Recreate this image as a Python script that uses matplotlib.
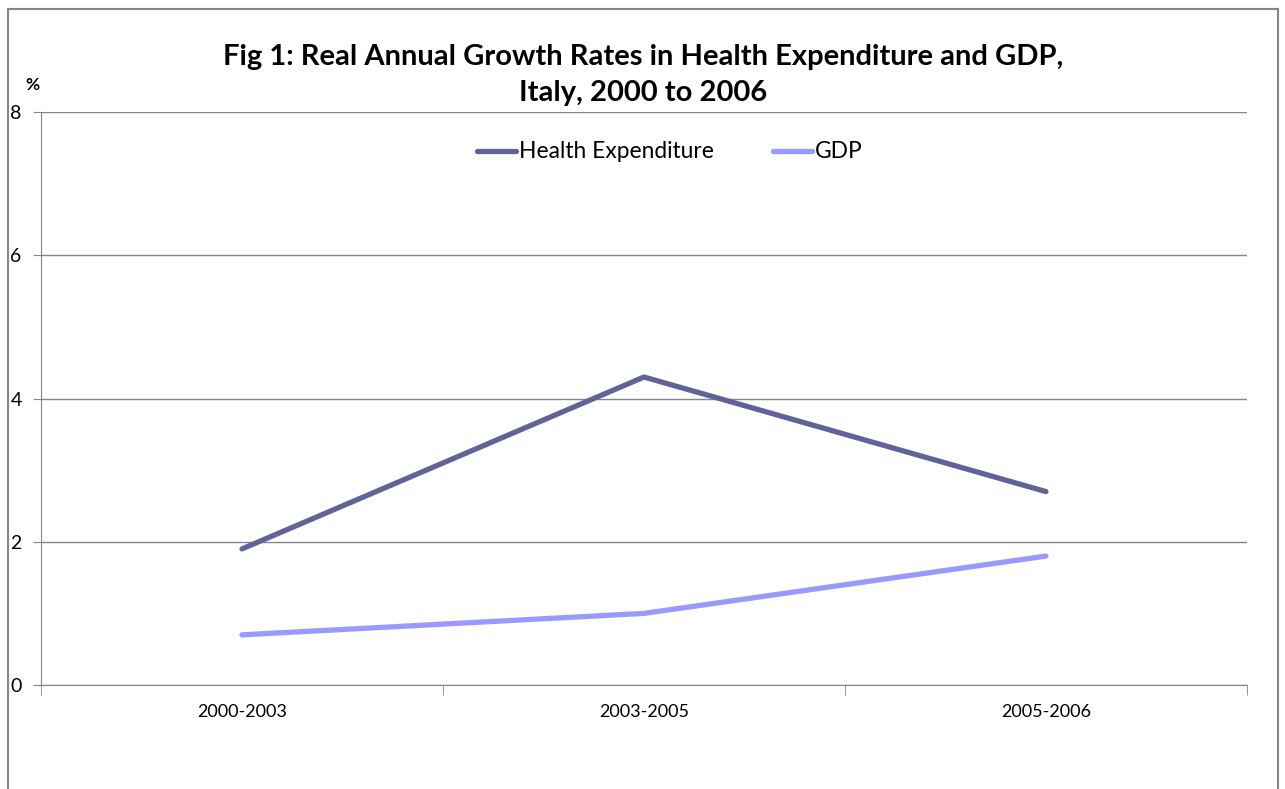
import matplotlib
matplotlib.use("Agg")
import matplotlib.pyplot as plt
from matplotlib.lines import Line2D

plt.rcParams['font.family'] = ['Lato', 'DejaVu Sans']

periods = ["2000-2003", "2003-2005", "2005-2006"]
health_expenditure = [1.9, 4.3, 2.7]
gdp = [0.7, 1.0, 1.8]
y_ticks = [0, 2, 4, 6, 8]

W, H = 1285, 789
fig = plt.figure(figsize=(W / 100, H / 100), dpi=100)
ax = fig.add_axes([41 / W, 1 - 685 / H, (1247 - 41) / W, (685 - 112) / H])

x = list(range(len(periods)))
ax.plot(x, health_expenditure, color="#62629A", lw=3.8, solid_capstyle="round",
        label="Health Expenditure", zorder=3)
ax.plot(x, gdp, color="#9999FF", lw=3.8, solid_capstyle="round",
        label="GDP", zorder=3)

ax.set_xlim(-0.5, len(periods) - 0.5)
ax.set_ylim(0, 8)
ax.set_yticks(y_ticks)
ax.set_yticklabels([str(v) for v in y_ticks], fontsize=14)
ax.set_xticks(x)
ax.set_xticklabels(periods, fontsize=13)
ax.tick_params(axis="x", length=0, pad=14)
ax.set_xticks([i - 0.5 for i in range(len(periods) + 1)], minor=True)
ax.tick_params(axis="x", which="minor", length=7, color="#868686", direction="out")
ax.tick_params(axis="y", length=6, color="#868686", pad=8)

ax.grid(axis="y", color="#868686", lw=1)
ax.set_axisbelow(True)
for side in ("top", "right"):
    ax.spines[side].set_visible(False)
ax.spines["left"].set_color("#868686")
ax.spines["bottom"].set_color("#868686")

fig.text(643 / W, 1 - 75 / H,
         "Fig 1: Real Annual Growth Rates in Health Expenditure and GDP,\nItaly, 2000 to 2006",
         ha="center", va="center", fontsize=21, fontweight="bold", linespacing=1.5)
fig.text(32 / W, 1 - 85 / H, "%", ha="center", va="center", fontsize=12.5, fontweight="bold")

fig.legend(loc="center", bbox_to_anchor=(670 / W, 1 - 152 / H), ncol=2, frameon=False,
           fontsize=16.4, handlelength=1.7, handletextpad=0.15, columnspacing=2.6)

# outer chart frame
frame_kw = dict(color="#868686", lw=1.5, transform=fig.transFigure)
fig.add_artist(Line2D([8 / W, 8 / W], [0, 1 - 9 / H], **frame_kw))
fig.add_artist(Line2D([8 / W, 1278 / W], [1 - 9 / H, 1 - 9 / H], **frame_kw))
fig.add_artist(Line2D([1278 / W, 1278 / W], [0, 1 - 9 / H], **frame_kw))

fig.savefig("out.png", dpi=100, facecolor="white")
